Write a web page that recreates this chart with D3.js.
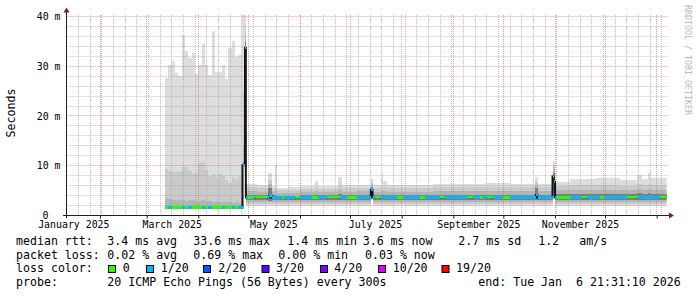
<!DOCTYPE html>
<html><head><meta charset="utf-8">
<script src="https://cdn.jsdelivr.net/npm/d3@7"></script>
<style>
html,body{margin:0;padding:0;background:#fff;}
svg text{font-family:"DejaVu Sans Mono",monospace;white-space:pre;}
</style></head><body>
<svg id="c" width="697" height="297"></svg>
<script>
// ---------- data ----------
const timeSpan = ["2025-01-11 21:31", "2026-01-06 21:31"];
const dataEnd = "2026-01-06 21:31";
const yTicks = [0, 10, 20, 30, 40];
const yTickLabels = ["0", "10 m", "20 m", "30 m", "40 m"];
const xLabelMonths = ["2025-01-01 00:00","2025-03-01 00:00","2025-05-01 00:00","2025-07-01 00:00","2025-09-01 00:00","2025-11-01 00:00"];
const xLabels = ["January 2025","March 2025","May 2025","July 2025","September 2025","November 2025"];

// smoke (ping distribution) bins
const smokeStart = [
 "2025-03-12 00:00","2025-03-14 00:00","2025-03-16 00:00","2025-03-18 00:00","2025-03-20 00:00","2025-03-22 00:00",
 "2025-03-24 00:00","2025-03-26 00:00","2025-03-28 00:00","2025-03-30 00:00","2025-04-01 00:00","2025-04-03 00:00",
 "2025-04-05 00:00","2025-04-07 00:00","2025-04-09 00:00","2025-04-11 00:00","2025-04-13 00:00","2025-04-15 00:00",
 "2025-04-17 00:00","2025-04-19 00:00","2025-04-21 00:00","2025-04-23 00:00","2025-04-25 00:00",
 "2025-04-27 00:00","2025-04-27 12:00","2025-04-29 00:00",
 "2025-04-29 12:00","2025-05-06 00:00","2025-05-13 00:00","2025-05-15 00:00","2025-05-17 00:00","2025-05-18 00:00",
 "2025-05-25 00:00","2025-06-01 00:00","2025-06-10 00:00","2025-06-12 00:00","2025-06-24 00:00","2025-06-26 00:00",
 "2025-07-05 00:00","2025-07-13 12:00","2025-07-14 12:00","2025-07-20 00:00","2025-07-21 00:00","2025-07-23 00:00",
 "2025-08-05 00:00","2025-08-20 00:00","2025-09-05 00:00","2025-09-20 00:00","2025-10-05 00:00","2025-10-20 00:00",
 "2025-10-22 00:00","2025-10-30 12:00","2025-11-01 00:00","2025-11-10 00:00","2025-11-25 00:00","2025-12-10 00:00",
 "2025-12-20 00:00","2025-12-23 00:00","2025-12-27 00:00","2025-12-28 00:00"];
const smokeMax = [
 27.5,30.2,31.0,28.6,27.9,36.1,32.9,31.6,32.6,28.4,30.2,34.3,30.2,28.1,36.9,28.8,28.7,30.2,27.4,33.5,35.0,31.7,32.2,
 40.2,40.2,40.2,
 6.3,6.1,8.4,5.8,10.1,5.5,5.7,5.8,6.8,5.9,7.6,6.0,6.1,7.2,6.0,8.7,6.8,6.0,6.1,6.3,6.3,6.4,6.2,7.6,6.3,10.9,
 6.6,7.2,7.4,7.0,8.0,7.3,8.4,7.4];
const smokeHi2 = [
 9.3,8.8,8.6,8.7,8.9,9.7,9.6,8.9,8.3,8.5,10.4,10.6,9.0,7.8,8.2,7.6,8.3,7.9,7.0,6.5,7.6,7.3,7.8,
 9.0,25.0,38.0,
 5.6,5.4,7.0,5.2,5.6,5.0,5.1,5.2,5.6,5.3,5.8,5.4,5.5,6.7,5.4,5.9,5.6,5.4,5.5,5.6,5.6,5.7,5.6,6.7,5.6,10.0,
 5.8,6.0,6.1,5.9,6.2,6.0,6.2,6.0];
const smokeHi3 = [
 3.4,3.3,3.1,3.0,3.1,3.0,2.9,3.0,3.1,2.9,2.8,3.0,2.8,2.9,2.7,2.8,2.7,2.6,2.7,2.6,2.5,2.6,2.5,
 3.0,14.0,36.0,
 4.8,4.7,6.2,4.6,4.8,4.5,4.5,4.6,4.8,4.7,5.0,4.7,4.8,6.2,4.7,5.0,4.8,4.7,4.7,4.8,4.8,4.8,4.8,6.0,4.8,9.2,
 5.0,5.1,5.1,5.0,5.2,5.1,5.2,5.1];
const smokeHi4 = [
 1.8,1.8,1.7,1.8,1.75,1.8,1.7,1.8,1.75,1.7,1.7,1.8,1.7,1.75,1.7,1.7,1.75,1.7,1.7,1.7,1.7,1.7,1.7,
 1.8,10.6,34.8,
 4.1,4.0,5.4,4.0,4.1,3.9,3.9,4.0,4.1,4.0,4.2,4.0,4.1,5.7,4.0,4.2,4.1,4.0,4.0,4.1,4.1,4.1,4.1,5.4,4.1,8.4,
 4.3,4.3,4.3,4.3,4.4,4.3,4.4,4.3];
const smokeLo4 = [
 1.35,1.35,1.35,1.35,1.35,1.35,1.35,1.35,1.35,1.35,1.35,1.35,1.35,1.35,1.35,1.35,1.35,1.35,1.35,1.35,1.35,1.35,1.35,
 1.35,9.9,33.0,
 2.95,2.95,2.9,2.95,2.95,2.95,2.95,2.95,2.95,2.95,2.95,2.95,2.95,4.1,2.95,2.95,2.95,2.95,2.95,2.95,2.95,2.95,2.95,3.1,2.95,5.0,
 2.95,2.95,2.95,2.95,2.95,2.95,2.95,2.95];
const smokeLo3 = [
 1.32,1.32,1.32,1.32,1.32,1.32,1.32,1.32,1.32,1.32,1.32,1.32,1.32,1.32,1.32,1.32,1.32,1.32,1.32,1.32,1.32,1.32,1.32,
 1.32,9.8,32.0,
 2.7,2.7,2.6,2.7,2.7,2.7,2.7,2.7,2.7,2.7,2.7,2.7,2.7,3.6,2.7,2.7,2.7,2.7,2.7,2.7,2.7,2.7,2.7,2.8,2.7,4.2,
 2.65,2.65,2.65,2.65,2.65,2.65,2.65,2.65];
const smokeLo2 = [
 1.3,1.3,1.3,1.3,1.3,1.3,1.3,1.3,1.3,1.3,1.3,1.3,1.3,1.3,1.3,1.3,1.3,1.3,1.3,1.3,1.3,1.3,1.3,
 1.3,9.7,31.0,
 2.3,2.3,2.2,2.3,2.3,2.3,2.3,2.3,2.3,2.3,2.3,2.3,2.3,3.3,2.3,2.3,2.3,2.3,2.3,2.3,2.3,2.3,2.3,2.3,2.3,3.8,
 2.25,2.25,2.25,2.25,2.25,2.25,2.25,2.25];
const smokeMin = [
 1.25,1.25,1.25,1.25,1.25,1.25,1.25,1.25,1.25,1.25,1.25,1.25,1.25,1.25,1.25,1.25,1.25,1.25,1.25,1.25,1.25,1.25,1.25,
 1.25,9.6,30.0,
 1.9,1.9,1.8,1.9,1.9,1.9,1.9,1.9,1.9,1.9,1.9,1.9,1.9,3.1,1.9,1.9,1.9,1.9,1.9,1.9,1.9,1.9,1.9,1.9,1.9,3.6,
 1.85,1.85,1.85,1.85,1.85,1.85,1.85,1.85];

// median rtt bins and packet loss (count out of 20)
const medStart = [
 "2025-03-12 00:00","2025-03-14 00:00","2025-03-16 00:00","2025-03-18 00:00","2025-03-20 00:00","2025-03-22 00:00",
 "2025-03-24 00:00","2025-03-26 00:00","2025-03-28 00:00","2025-03-30 00:00","2025-04-01 00:00","2025-04-03 00:00",
 "2025-04-05 00:00","2025-04-07 00:00","2025-04-09 00:00","2025-04-11 00:00","2025-04-13 00:00","2025-04-15 00:00",
 "2025-04-17 00:00","2025-04-19 00:00","2025-04-21 00:00","2025-04-23 00:00","2025-04-25 00:00",
 "2025-04-27 00:00","2025-04-27 12:00","2025-04-29 00:00",
 "2025-04-29 12:00","2025-04-30 12:00","2025-05-03 12:00","2025-05-05 00:00","2025-05-12 12:00","2025-05-13 12:00",
 "2025-05-15 00:00","2025-05-21 00:00","2025-05-22 12:00","2025-05-29 00:00","2025-06-01 00:00","2025-06-08 00:00",
 "2025-06-11 12:00","2025-06-17 00:00","2025-06-25 00:00","2025-06-29 00:00","2025-07-05 00:00","2025-07-13 12:00",
 "2025-07-14 12:00","2025-07-16 00:00","2025-07-19 12:00","2025-07-29 00:00","2025-08-01 12:00","2025-08-12 00:00",
 "2025-08-15 00:00","2025-08-24 00:00","2025-08-27 00:00","2025-09-09 00:00","2025-09-12 12:00","2025-09-17 00:00",
 "2025-09-19 00:00","2025-09-21 00:00","2025-09-24 12:00","2025-10-01 00:00","2025-10-05 00:00","2025-10-20 12:00",
 "2025-10-21 12:00","2025-10-30 12:00","2025-10-31 06:00","2025-11-01 00:00","2025-11-02 00:00","2025-11-10 00:00",
 "2025-11-17 00:00","2025-11-20 00:00","2025-11-28 00:00","2025-11-30 12:00","2025-12-14 00:00","2025-12-20 12:00",
 "2026-01-03 00:00"];
const medianRtt = [
 1.45,1.45,1.5,1.45,1.45,1.5,1.45,1.45,1.45,1.5,1.45,1.45,1.5,1.45,1.45,1.45,1.45,1.5,1.45,1.45,1.45,1.45,1.5,
 1.45,10.0,33.6,
 3.5,3.55,3.5,3.6,3.5,3.85,3.5,3.55,3.5,3.6,3.5,3.55,3.5,3.6,3.5,3.55,3.5,5.1,3.5,3.6,3.5,3.55,3.5,3.55,
 3.5,3.6,3.5,3.6,3.5,3.55,3.5,3.6,3.5,3.55,3.5,4.0,3.5,7.8,6.7,3.5,3.55,3.5,3.6,3.5,3.55,3.5,3.6,3.5,3.6];
const lossCount = [
 0,1,0,0,0,1,0,1,0,0,0,1,0,1,0,0,0,1,0,0,1,0,1,
 1,1,0,
 1,0,1,0,1,1,1,0,1,0,1,0,1,0,1,0,1,1,1,0,1,0,1,0,
 1,0,1,0,1,0,1,0,1,0,1,1,1,0,1,1,0,1,0,1,0,1,0,1,0];

const lossLevels = [0, 1, 2, 3, 4, 10, 19];
const lossLabels = ["0", "1/20", "2/20", "3/20", "4/20", "10/20", "19/20"];
const lossColors = ["#26ff00", "#00b8ff", "#0059ff", "#5e00ff", "#7e00ff", "#dd00ff", "#ff0000"];

// ---------- drawing ----------
const parse = d3.timeParse("%Y-%m-%d %H:%M");
const svg = d3.select("#c");
const X0 = 66.5, X1 = 666.5, YB = 215, YT = 15;
const x = d3.scaleTime().domain(timeSpan.map(parse)).range([X0, X1]);
const y = d3.scaleLinear().domain([0, 40.2]).range([YB, YT]);
const [tA, tB] = x.domain();

svg.append("rect").attr("width", 697).attr("height", 297).attr("fill", "#fff");
svg.append("defs").append("clipPath").attr("id", "plot")
  .append("rect").attr("x", X0).attr("y", YT).attr("width", X1 - X0).attr("height", YB - YT);

// smoke
const gData = svg.append("g").attr("clip-path", "url(#plot)");
const smokeT = smokeStart.map(parse).concat([parse(dataEnd)]);
const bands = [
  [smokeMin, smokeMax, "#dddddd"],
  [smokeLo2, smokeHi2, "#cacaca"],
  [smokeLo3, smokeHi3, "#b4b4b4"],
  [smokeLo4, smokeHi4, "#7c7c7c"]
];
bands.forEach(([lo, hi, col]) => {
  const pts = smokeT.map((t, i) => {
    const k = Math.min(i, lo.length - 1);
    return {t, lo: lo[k], hi: hi[k]};
  });
  gData.append("path").datum(pts)
    .attr("d", d3.area().curve(d3.curveStepAfter).x(d => x(d.t)).y0(d => y(d.lo)).y1(d => y(d.hi)))
    .attr("fill", col).attr("shape-rendering", "crispEdges");
});

// grid
const gGrid = svg.append("g").attr("fill", "none");
const px = v => Math.floor(v) + 0.5;
const py = v => Math.round(v) + 0.5;
const minorCol = "rgba(150,150,150,0.55)", majorCol = "rgba(222,79,79,0.55)";
d3.timeSunday.range(tA, tB).forEach(d => {
  gGrid.append("line").attr("x1", px(x(d))).attr("x2", px(x(d))).attr("y1", YT).attr("y2", YB)
    .attr("stroke", minorCol).attr("stroke-dasharray", "1,1");
});
d3.range(2, 41, 2).filter(v => v % 10 !== 0).forEach(v => {
  gGrid.append("line").attr("x1", X0).attr("x2", X1 + 1).attr("y1", py(y(v))).attr("y2", py(y(v)))
    .attr("stroke", minorCol).attr("stroke-dasharray", "1,1");
});
d3.timeMonth.range(tA, tB).forEach(d => {
  gGrid.append("line").attr("x1", px(x(d))).attr("x2", px(x(d))).attr("y1", YT).attr("y2", YB)
    .attr("stroke", majorCol).attr("stroke-dasharray", "1,1");
});
yTicks.filter(v => v > 0).forEach(v => {
  gGrid.append("line").attr("x1", X0).attr("x2", X1 + 1).attr("y1", py(y(v))).attr("y2", py(y(v)))
    .attr("stroke", majorCol).attr("stroke-dasharray", "1,1");
});

// median line + loss colours
const lossColor = n => { let c = lossColors[0]; lossLevels.forEach((l, i) => { if (n >= l) c = lossColors[i]; }); return c; };
const gMed = svg.append("g").attr("clip-path", "url(#plot)");
const medT = medStart.map(parse).concat([parse(dataEnd)]);
const medPts = medT.map((t, i) => ({t, v: medianRtt[Math.min(i, medianRtt.length - 1)]}));
gMed.append("path").datum(medPts)
  .attr("d", d3.line().curve(d3.curveStepAfter).x(d => x(d.t)).y(d => y(d.v)))
  .attr("fill", "none").attr("stroke", "#151515").attr("stroke-width", 2);
gMed.selectAll("rect").data(medianRtt).join("rect")
  .attr("x", (d, i) => x(medT[i])).attr("width", (d, i) => x(medT[i + 1]) - x(medT[i]))
  .attr("y", d => y(d) - 1.4).attr("height", 2.8)
  .attr("fill", (d, i) => lossColor(lossCount[i])).attr("shape-rendering", "crispEdges");

// axes
const axisCol = "#1f1f1f", arrowCol = "#801f1f";
svg.append("line").attr("x1", 63).attr("x2", 670).attr("y1", YB + 0.5).attr("y2", YB + 0.5).attr("stroke", axisCol);
svg.append("line").attr("x1", X0).attr("x2", X0).attr("y1", 218).attr("y2", 12).attr("stroke", axisCol);
svg.append("path").attr("d", "M669,212.5L669,218.5L674,215.5Z").attr("fill", arrowCol);
svg.append("path").attr("d", "M63.5,12.5L69.5,12.5L66.5,7.5Z").attr("fill", arrowCol);

// x ticks (monthly)
const xTickAxis = svg.append("g").attr("transform", `translate(0,${YB + 0.5})`)
  .call(d3.axisBottom(x).tickValues(d3.timeMonth.range(tA, tB)).tickSize(3).tickFormat(""));
xTickAxis.select(".domain").remove();
xTickAxis.selectAll("line").attr("stroke", axisCol).attr("transform", function() {
  return null; });

// x labels centered half a month after month start
const labelDates = xLabelMonths.map(parse).map(d => d3.timeDay.offset(d, 15));
const xLab = svg.append("g").attr("transform", `translate(0,${YB})`)
  .call(d3.axisBottom(x).tickValues(labelDates).tickSize(0).tickPadding(6).tickFormat((d, i) => xLabels[i]));
xLab.select(".domain").remove();
xLab.attr("font-family", null).attr("font-size", null);
xLab.selectAll("text").attr("font-size", "9.9px").attr("fill", "#000");

// y labels
const yLab = svg.append("g").attr("transform", `translate(${X0},0)`)
  .call(d3.axisLeft(y).tickValues(yTicks).tickSize(0).tickPadding(6).tickFormat((d, i) => yTickLabels[i]));
yLab.select(".domain").remove();
yLab.attr("font-family", null).attr("font-size", null);
yLab.selectAll("text").attr("font-size", "9.9px").attr("fill", "#000").attr("dy", "0.36em")
  .attr("x", d => d === 0 ? -18 : -6);

// y title
svg.append("text").attr("transform", "translate(15,113) rotate(-90)").attr("text-anchor", "middle")
  .attr("font-size", "11.6px").attr("fill", "#000").text("Seconds");

// watermark
svg.append("text").attr("transform", "translate(685,5) rotate(90)")
  .attr("font-size", "8.3px").attr("fill", "#b8b8b8").text("RRDTOOL / TOBI OETIKER");

// legend
const L = svg.append("g").attr("font-size", "11.6px").attr("fill", "#000");
const legendRows = [
  [244.8, [[16, "median rtt:"], [107.3, "3.4 ms avg"], [193.3, "33.6 ms max"], [287.3, "1.4 ms min"], [362.7, "3.6 ms now"], [458.3, "2.7 ms sd"], [538.3, "1.2"], [579.3, "am/s"]]],
  [258.5, [[16, "packet loss:"], [107.3, "0.02 % avg"], [193.3, "0.69 % max"], [278.3, "0.00 % min"], [365, "0.03 % now"]]],
  [272.2, [[16, "loss color:"]]],
  [285.9, [[16, "probe:"], [107.3, "20 ICMP Echo Pings (56 Bytes) every 300s"], [478.3, "end: Tue Jan  6 21:31:10 2026"]]]
];
legendRows.forEach(([by, items]) => items.forEach(([lx, s]) => L.append("text").attr("x", lx).attr("y", by).text(s)));
const boxX = [108.5, 146.5, 203.5, 262, 320.5, 378.5, 442];
const boxLabelX = [122.7, 160.7, 218.3, 276, 334.3, 392.7, 456];
lossLabels.forEach((s, i) => {
  L.append("rect").attr("x", boxX[i]).attr("y", 265.5).attr("width", 7).attr("height", 7)
    .attr("fill", lossColors[i]).attr("stroke", "#000").attr("stroke-width", 1);
  L.append("text").attr("x", boxLabelX[i]).attr("y", 272.2).text(s);
});
</script></body></html>
